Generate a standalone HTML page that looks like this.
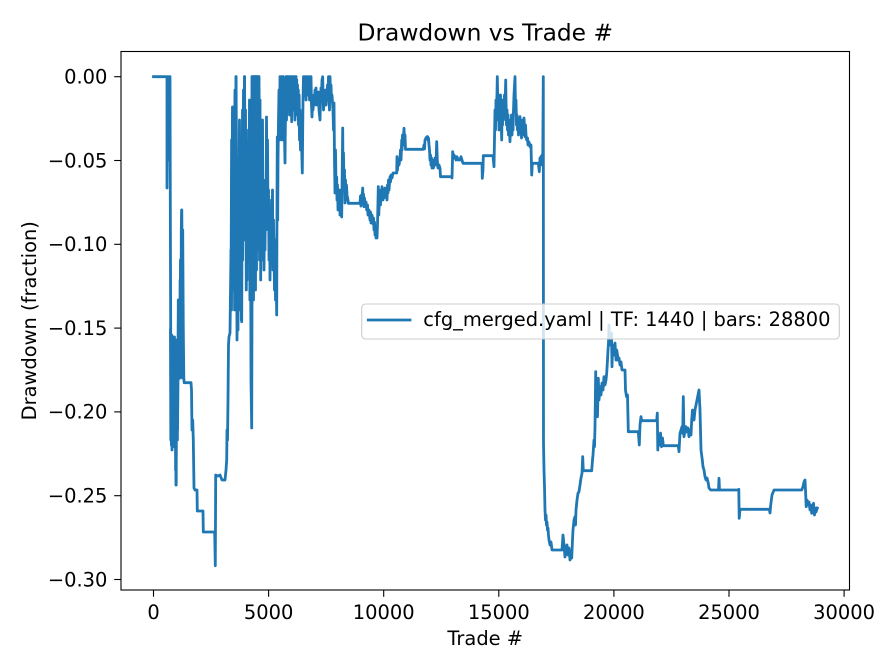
<!DOCTYPE html>
<html><head><meta charset="utf-8"><style>
html,body{margin:0;padding:0;background:#fff;}
svg{display:block;}
text{font-family:"DejaVu Sans","Liberation Sans",sans-serif;fill:#000;}
</style></head><body>
<svg width="896" height="672" viewBox="0 0 896 672" xmlns="http://www.w3.org/2000/svg">
<rect x="0" y="0" width="896" height="672" fill="#fff"/>
<defs><clipPath id="ax"><rect x="121" y="51.5" width="728.5" height="538.5"/></clipPath></defs>
<g clip-path="url(#ax)" fill="none" stroke="#1f77b4" stroke-width="2.8" stroke-linejoin="round" stroke-linecap="square">
<polyline points="
153.5,76.7 167,76.7 167,188 167.5,120 168,76.7 168.5,150 169,76.7 169.5,160 170,76.7 170.3,200 170.6,300 171,423 171.5,340 172,450 172.5,360 173,420 173.5,340 174,380 174.5,337 175,447 175.5,350 176,485 176.5,380 177,360 177.5,430 178,380 178.5,300 179,370 179.5,320 180,378 180.5,260 181,300 181.7,210 182.2,280 182.7,230 183.3,330 183.8,378 184.2,382.7 191,382.7 191.5,390 192,430 192.7,420 193.3,440 194,488 195,490 197,490 197.3,511 203,511 203.3,532 214.7,532 215.3,565.7 215.7,475 218,476 220,475 222,480 225,480 226,470 226.7,460 227,430 227.5,440 228,400 228.5,345 229,336.7 230,333
231,250 231.5,310 232,200 232.5,107 233,180 233.5,120 234,250 234.5,140 235,90 235.5,200 236,76.7 236.5,180 237,340 237.5,250 238,330 238.5,160 239,200 239.5,120 240,230 240.5,310 241,200 241.7,321.7 242,230 242.5,110 243,150 243.5,90 244,200 244.5,76.7 245,150 245.5,110 246,240 246.5,180 247,280 247.5,150 248,210 248.5,130 249,190 249.5,100 250,280 250.5,200 251,380 251.7,428 252,300 252.3,76.7 252.7,200 253,76.7 253.5,250 254,76.7 254.5,180 255,76.7 255.5,290 256,76.7 256.5,150 257,76.7 257.5,210 258,76.7 258.5,120 259,76.7 259.5,170 260,100 260.5,230 261,150 261.5,260 262,190 262.5,120 263,240 263.5,200 264,270 264.5,210 265,250 265.5,180 266,230 266.5,117 267,200 267.5,140 268,220 268.5,190 269,260 269.5,210 270,280 270.5,230 271,260 271.5,200 272,240 272.5,190 273,270 273.5,220 274,250 274.5,290 275,240 275.5,300 276,260 276.7,315 277,200 277.3,137 277.7,220 278,160 278.5,120 279,90 279.5,140 280,76.7
281,120 281.5,90 282,140 282.5,100 283,76.7 283.5,130 284,110 285,163 285.5,100 286,76.7 286.5,120 287,90 287.5,76.7 288,110 288.5,95 289,76.7 289.5,115 290,85 290.5,105 291,76.7 291.7,121.7 292,95 292.5,80 293,110 293.5,76.7 294,100 294.5,85 295,120 295.5,95 296,76.7 296.5,105 297,90 297.5,115 298,95 298.5,125 299,100 299.5,140 300,110 300.5,150 301,120 302.3,173 302.7,130 303,100 303.5,76.7 304,95 304.5,76.7 305,90 305.5,76.7 306,100 306.5,80 307,76.7 307.5,95 308,76.7 308.5,88 309,76.7 309.5,100 310,85 310.5,95 311,76.7 311.5,105 312,117 312.5,100 313,110 314,95 314.5,105 315,90 315.5,100 316,88 316.5,105 317,96 318,100 318.5,92 319,110 320,120 320.5,100 321,88 321.5,95 322,80 322.7,76.7 323,95 323.5,110 324,100 325,105 325.5,90 326,105 326.5,95 327,100 327.5,85 328,95 328.5,76.7 329,100 329.5,110 330,76.7 330.5,95 331,85 331.5,100 332,95 333,110
333.5,130 334,103 334.5,160 335,193 335.5,150 336,185 336.7,177 337,200 337.5,185 338,210 338.5,195 339,205 339.5,190 340,215 340.5,200 341,210 341.7,217 342,190 342.7,128 343,170 343.5,153 344,190 344.5,170 345,203 345.5,180 346,200 346.5,185 347,195 348,200 348.3,203.3 360,203.3 360.5,196 361,206 361.5,195 362,200 362.7,188 363,200 363.5,194 364,206.7 364.5,198 365,205 366,202 366.7,210 367.5,205 368,215 369,210 370,220 370.5,212 371,223 372,215 373,224 373.5,218 374,230 374.5,222 375,235 375.5,226 376,238 376.5,230 377,238 377.5,225 378.3,186.7 378.8,215 379.3,200 380,195 380.5,205 381,190 381.5,196 382,186.7 383,200 383.5,192 384,198 385,188 385.5,195 386,190 387,200 387.5,185 388,193 388.5,180 389,190 390,176.7 390.5,182 391,175 392,178 393,173 396.7,173 397,156.7 397.5,170 398,160 399,165 400,158 400.5,150 401,160 401.7,140 402,150 402.5,135 403,145 404,128.3 404.5,140 405,135 405.5,149.3 423.3,149.3 424,145 424.5,149 425,140 426,138 427,136.7 427.7,136.7 428,140 428.5,138 429,145 429.5,150 430,160 430.5,155 431,165 431.5,158 432,168 433,162 433.5,168 434,160 434.5,165 435,158 436,165 436.7,141.7 437.3,160 438,168 439,165 440,168.3 440.5,176.7 451.7,176.7 452,178 452.7,151.7 453.5,158 454,155 455,157 456,160 457,156.7 458,160 460,160 461,156.7 462,160 463,163.3 482,163.3 482.3,178.3 483,170 483.3,155.7 493,155.7 494,166.7 495,110 495.5,130 496,100 496.5,120 497.3,76.7 498,110 498.5,95 499,130 499.5,100 500,120 500.5,95 501,115 501.7,140 502,115 502.5,125 503,100 503.5,120 504,105 504.5,95 505,110 505.7,80 506,100 506.5,125 507,110 507.5,130 508,115 508.5,135 509,120 510,141.7 510.5,125 511,130 511.5,115 512,135 512.5,120 513,130 513.5,110 514,95 515,76.7 515.5,110 516,100 516.5,125 517,115 517.5,130 518,120 518.5,135 519,125 520,116.7 520.5,130 521,120 521.5,138 522,125 522.5,135 523,120 523.5,130 524,118 525,136.7 525.5,125 526,135 526.7,140 527.5,138 528,145 529,142 530,146.7 531,145 531.7,175 532.3,163.3 538.3,163.3 539.3,171.7 540,158 540.5,165 541,156.7 541.5,162 542,155 542.7,165 543.3,76.7 543.5,443 544,470 544.5,487 545,510 545.5,520 546,515 546.5,525 547,522 547.5,530 548,528 548.5,535 549,540 550,545 551,542 552,550 552.7,550 562,550
563,535 564,545 565,557 566,548 567,545 568,555 569,548 570,560 571,556 571.7,558 572.5,540 573,530 574,520 575,516.7 575.5,525 576,510 577,500 578,493.3 579,491.7 580,485 581,478 582,473.3 582.7,456.7 583.3,470.7 591.7,470.7 592.5,460 593,455 594,440 594.5,446.7 595,426.7 595.7,371.7 596.2,410 597,395 597.5,416.7 598.3,378.3 599,400 600,386.7 601,395 602,383 603,390 604,376.7 605,385 606,380 606.7,373 607.5,360 608,350 608.5,343 609,325 609.5,345 610,335 610.5,345 611,340 611.5,333 612,366.7 612.5,350 613,345 614,355 615,343 616,360 616.7,350 617.5,355 618,360 619,358 620,365 621,362 622,370 625,370 625.5,390 626.5,396.7 627.5,395 628.3,431.7 638.3,431.7 639.3,445 640,425 641,416.7 641.7,420.7 656.7,420.7 657.3,413 657.8,450 658.5,435 659.5,445 660.5,433 661.5,446.7 662.5,438 663.3,445.7 678.3,445.7 679,451.7 680,433.3 681,430 682,426.7 682.7,433.3 683.3,396.7 684,436.7 685,430 686,426.7 687,432 688,428 689,436.7 690,430 691,435 691.7,420 692.5,410 693.5,418 694,420 695,410 696,405 697,400 698,395 699,390 699.5,400 700,410 700.5,430 701,450 702.3,460 703,466.7 704,470 705,476.7 706,480 707,478 708.3,483.3 709,488 710.7,490 718.5,490 719,478.3 719.5,490 738.3,490 738.8,489.3 739.2,518.3 740,509.3 769.3,509.3 770,513 770.7,505 772,495 774,490 801.7,490 803,486.7 804,482 805,480 805.5,490 806.2,506.7 807,500 808,505 809,502 810,510 811,505 811.7,513.3 812.5,505 813,510 813.5,503.3 814.5,515 815,508 816,512 817.3,508"/>
<polyline points="170.5,330 170.8,440 171.1,340 171.4,445 171.7,335 172,420 172.3,345 172.6,447 172.9,350 173.2,430 173.5,337 173.8,440 174.1,360 174.4,445 174.7,340 175,420 175.3,350 175.6,470 175.9,370 176.2,485 176.5,340 176.8,400 177.1,350 177.4,440 177.7,345 178,380 178.3,300 178.6,378 178.9,310 179.2,370 179.5,300 179.8,378 180.1,280 180.4,375 180.7,260 181,370 181.3,230 181.7,210 182,330 182.3,250 182.6,378 182.9,300 183.2,378"/>
<polyline points="231,300 231.6,140 232.2,290 232.8,110 233.4,280 234,150 234.6,310 235.2,120 235.8,260 236.1,76.7 236.6,250 237.2,160 237.8,320 238.4,170 239,280 239.6,140 240.2,300 240.8,180 241.4,320 242,160 242.6,260 243.2,130 243.8,240 244.5,76.7 245.1,220 245.7,150 246.3,290 246.9,170 247.5,260 248.1,150 248.7,240 249.3,130 249.9,300 250.5,170 251.1,360 251.7,200 252,76.7 252.3,250 252.6,76.7 252.9,200 253.2,76.7 253.5,300 253.8,76.7 254.1,220 254.4,76.7 254.7,260 255,76.7 255.3,190 255.6,76.7 255.9,240 256.2,90 256.5,270 256.8,76.7 257.1,200 257.4,76.7 257.7,250 258,100 258.3,180 258.6,76.7 258.9,220 259.2,110 259.5,260 259.8,130 260.1,200 260.4,150 260.7,280 261,120 261.3,240 261.6,170 262,250"/>
<polyline points="280.3,100 280.7,80 281.1,110 281.5,76.7 281.9,105 282.3,85 282.7,115 283.1,76.7 283.5,100 283.9,80 284.3,125 284.7,90 285.1,140 285.5,85 285.9,110 286.3,76.7 286.7,100 287.1,80 287.5,105 287.9,76.7 288.3,100 288.7,78 289.1,110 289.5,80 289.9,100 290.3,76.7 290.7,112 291.1,85 291.5,100 291.9,78 292.3,105 292.7,76.7 293.1,95 293.5,80 293.9,108 294.3,76.7 294.7,100 295.1,82 295.5,110 295.9,76.7 296.3,95 296.7,80 297.1,105 297.5,85 297.9,110 298.3,90 298.7,115 299.1,95 299.5,120"/>
</g>
<rect x="121" y="51.5" width="728.5" height="538.5" fill="none" stroke="#000" stroke-width="1.1"/>
<g stroke="#000" stroke-width="1.1">
<line x1="114.2" y1="76.7" x2="121" y2="76.7"/>
<line x1="114.2" y1="160.5" x2="121" y2="160.5"/>
<line x1="114.2" y1="244.3" x2="121" y2="244.3"/>
<line x1="114.2" y1="328.1" x2="121" y2="328.1"/>
<line x1="114.2" y1="411.9" x2="121" y2="411.9"/>
<line x1="114.2" y1="495.7" x2="121" y2="495.7"/>
<line x1="114.2" y1="579.5" x2="121" y2="579.5"/>
<line x1="153.5" y1="590" x2="153.5" y2="596.8"/>
<line x1="268.6" y1="590" x2="268.6" y2="596.8"/>
<line x1="383.7" y1="590" x2="383.7" y2="596.8"/>
<line x1="498.8" y1="590" x2="498.8" y2="596.8"/>
<line x1="613.9" y1="590" x2="613.9" y2="596.8"/>
<line x1="729" y1="590" x2="729" y2="596.8"/>
<line x1="844.1" y1="590" x2="844.1" y2="596.8"/>
</g>
<g font-size="19.44" text-anchor="end">
<text x="107.4" y="83.5">0.00</text>
<text x="107.4" y="167.3">−0.05</text>
<text x="107.4" y="251.1">−0.10</text>
<text x="107.4" y="334.9">−0.15</text>
<text x="107.4" y="418.7">−0.20</text>
<text x="107.4" y="502.5">−0.25</text>
<text x="107.4" y="586.3">−0.30</text>
</g>
<g font-size="19.44" text-anchor="middle">
<text x="153.5" y="619">0</text>
<text x="268.6" y="619">5000</text>
<text x="383.7" y="619">10000</text>
<text x="498.8" y="619">15000</text>
<text x="613.9" y="619">20000</text>
<text x="729" y="619">25000</text>
<text x="844.1" y="619">30000</text>
<text x="485.25" y="645">Trade #</text>
<text transform="translate(36,320.75) rotate(-90)" x="0" y="0">Drawdown (fraction)</text>
</g>
<text x="485.25" y="40.7" font-size="23.33" text-anchor="middle">Drawdown vs Trade #</text>
<rect x="361.7" y="304" width="477.6" height="35" rx="4" ry="4" fill="#fff" fill-opacity="0.8" stroke="#cccccc" stroke-width="1.1"/>
<line x1="368.3" y1="320" x2="410" y2="320" stroke="#1f77b4" stroke-width="2.8" stroke-linecap="square"/>
<text x="423.3" y="326" font-size="19.44">cfg_merged.yaml | TF: 1440 | bars: 28800</text>
</svg>
</body></html>
